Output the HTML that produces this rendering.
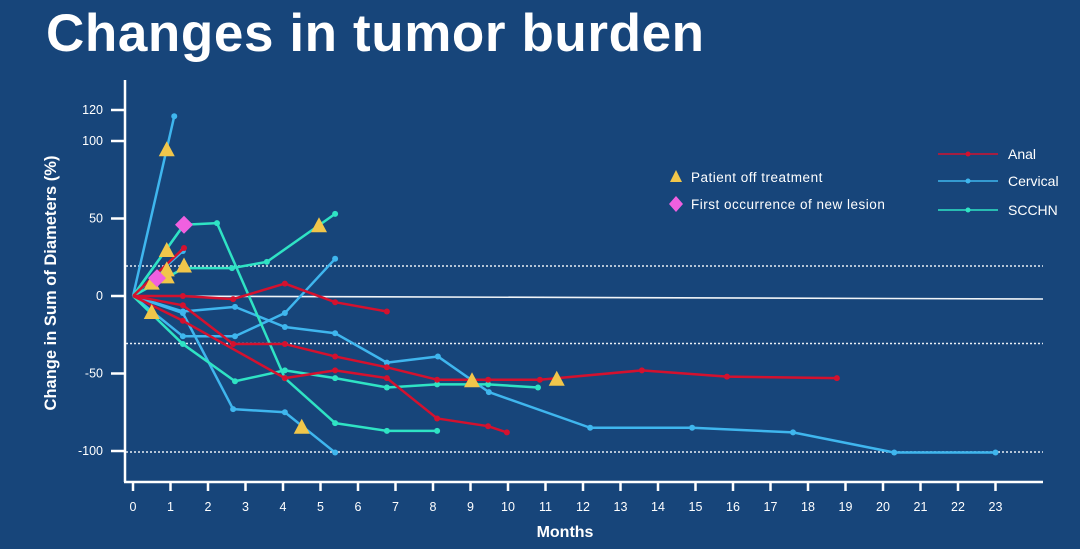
<!DOCTYPE html>
<html><head><meta charset="utf-8">
<style>
html,body{margin:0;padding:0;background:#17457a;}
#wrap{position:relative;width:1080px;height:549px;background:#17457a;overflow:hidden;font-family:"Liberation Sans",sans-serif;}
#title{position:absolute;left:46px;top:3px;font-size:53px;font-weight:bold;color:#fff;letter-spacing:0.6px;}
svg{position:absolute;left:0;top:0;}
</style></head><body>
<div id="wrap">
<div id="title">Changes in tumor burden</div>
<svg id="chart" width="1080" height="549"></svg>
</div>
<script>
const xTicks=[0,1,2,3,4,5,6,7,8,9,10,11,12,13,14,15,16,17,18,19,20,21,22,23];
const yTicks=[120,100,50,0,-50,-100];
const refLines=[20,-30,-100];
// Anal series
const anal1M=[0,1.33,2.67,4.05,5.39,6.77];
const anal1V=[0,0,-2,8,-4,-10];
const anal2M=[0,1.33,2.67,4.05,5.39,6.77,8.11,9.47,10.85,13.57,15.84,18.77];
const anal2V=[0,-6,-31,-31,-39,-46,-54,-54,-54,-48,-52,-53];
const anal3M=[0,1.33,4.05,5.39,6.77,8.11,9.47,9.97];
const anal3V=[0,-16,-53,-48,-53,-79,-84,-88];
const anal4M=[0,1.36];
const anal4V=[0,31];
// Cervical series
const cerv1M=[0,1.1];
const cerv1V=[0,116];
const cerv2M=[0,1.33];
const cerv2V=[0,29];
const cerv3M=[0,1.33,2.67,4.05,5.39];
const cerv3V=[0,-11,-73,-75,-101];
const cerv4M=[0,1.33,2.72,4.05,5.39];
const cerv4V=[0,-26,-26,-11,24];
const cerv5M=[0,1.33,2.72,4.05,5.39,6.77,8.13,9.49,12.19,14.91,17.6,20.3,23.0];
const cerv5V=[0,-10,-7,-20,-24,-43,-39,-62,-85,-85,-88,-101,-101];
const cerv6M=[0,1.36];
const cerv6V=[0,46];
// SCCHN series
const sc1M=[0,1.36,2.24,4.05,5.39,6.77,8.11];
const sc1V=[0,46,47,-53,-82,-87,-87];
const sc2M=[0,1.36,2.64,3.57,5.39];
const sc2V=[0,18,18,22,53];
const sc3M=[0,1.33,2.72,4.05,5.39,6.77,8.11,9.47,10.8];
const sc3V=[0,-31,-55,-48,-53,-59,-57,-57,-59];
// markers
const triM=[0.9,0.9,0.9,0.9,1.36,0.5,0.5,4.5,4.96,9.04,11.3];
const triV=[94,29,16.5,12,19,8,-11,-85,45,-55,-54];
const diaM=[0.64,1.36];
const diaV=[11.5,46];

const NS="http://www.w3.org/2000/svg";
const svg=document.getElementById('chart');
const X=m=>133+37.5*m;
const Y=v=>296-1.55*v;
function mk(t,a,p){const e=document.createElementNS(NS,t);for(const k in a)e.setAttribute(k,a[k]);(p||svg).appendChild(e);return e;}

refLines.forEach(v=>{
  const l=mk('line',{x1:126,x2:1043,y1:Y(v)+1,y2:Y(v)+1,stroke:'#e8eef5','stroke-width':1.5,'stroke-dasharray':'2,2'});
  
  
});
const zl=mk('line',{x1:X(0),x2:1043,y1:Y(0),y2:Y(0)+3,stroke:'#f0f4f8','stroke-width':1.6});



const ya=mk('line',{x1:125,x2:125,y1:80,y2:482,stroke:'#fff','stroke-width':2.5});


const xa=mk('line',{x1:124,x2:1043,y1:482,y2:482,stroke:'#fff','stroke-width':2.5});


yTicks.forEach(v=>{
  mk('line',{x1:111,x2:125,y1:Y(v),y2:Y(v),stroke:'#fff','stroke-width':2.5});
  const t=mk('text',{x:103,y:Y(v)+4,'text-anchor':'end',fill:'#fff','font-size':12.5,'font-family':'Liberation Sans, sans-serif'});
  t.textContent=v;
  
  
});
xTicks.forEach(m=>{
  mk('line',{x1:X(m),x2:X(m),y1:482,y2:491,stroke:'#fff','stroke-width':2.5});
  const t=mk('text',{x:X(m),y:511,'text-anchor':'middle',fill:'#fff','font-size':12.5,'font-family':'Liberation Sans, sans-serif'});
  t.textContent=m;
  
  
});
const xt=mk('text',{x:565,y:537,'text-anchor':'middle',fill:'#fff','font-size':16,'font-weight':'bold','font-family':'Liberation Sans, sans-serif'});
xt.textContent='Months';


const yt=mk('text',{x:0,y:0,'text-anchor':'middle',fill:'#fff','font-size':16.5,'font-weight':'bold','font-family':'Liberation Sans, sans-serif',transform:'translate(56,283) rotate(-90)'});
yt.textContent='Change in Sum of Diameters (%)';



const RED='#d4112e',BLUE='#3fb6ee',TEAL='#2fe3c4';
function series(ms,vs,col,name){
  const g=mk('g',{});
  
  
  mk('polyline',{points:ms.map((m,i)=>X(m)+','+Y(vs[i])).join(' '),fill:'none',stroke:col,'stroke-width':2.5,'stroke-linejoin':'round'},g);
  ms.forEach((m,i)=>{ if(i>0) mk('circle',{cx:X(m),cy:Y(vs[i]),r:3,fill:col},g); });
}
series(cerv1M,cerv1V,BLUE,'cervical-patient-1');
series(cerv2M,cerv2V,BLUE,'cervical-patient-2');
series(cerv3M,cerv3V,BLUE,'cervical-patient-3');
series(cerv4M,cerv4V,BLUE,'cervical-patient-4');
series(cerv5M,cerv5V,BLUE,'cervical-patient-5');
series(cerv6M,cerv6V,BLUE,'cervical-patient-6');
series(sc1M,sc1V,TEAL,'scchn-patient-1');
series(sc2M,sc2V,TEAL,'scchn-patient-2');
series(sc3M,sc3V,TEAL,'scchn-patient-3');
series(anal1M,anal1V,RED,'anal-patient-1');
series(anal2M,anal2V,RED,'anal-patient-2');
series(anal3M,anal3V,RED,'anal-patient-3');
series(anal4M,anal4V,RED,'anal-patient-4');

triM.forEach((m,i)=>{
  const x=X(m),y=Y(triV[i]);
  const p=mk('polygon',{points:`${x},${y-9} ${x-8},${y+6} ${x+8},${y+6}`,fill:'#f1c64a'});
  
  
});
diaM.forEach((m,i)=>{
  const x=X(m),y=Y(diaV[i]);
  const p=mk('polygon',{points:`${x},${y-9} ${x+9},${y} ${x},${y+9} ${x-9},${y}`,fill:'#f060e0'});
  
  
});

const lg=mk('g',{});


const lt=mk('polygon',{points:'676,170 670,182 682,182',fill:'#f1c64a'},lg);


const ld=mk('polygon',{points:'676,196 683,204 676,212 669,204',fill:'#f060e0'},lg);


[['Patient off treatment',182],['First occurrence of new lesion',209]].forEach(([s,y])=>{
  const t=mk('text',{x:691,y:y,fill:'#fff','font-size':13.5,'letter-spacing':'0.5','font-family':'Liberation Sans, sans-serif'},lg);
  t.textContent=s;
  
  
});
[['Anal',RED,154],['Cervical',BLUE,181],['SCCHN',TEAL,210]].forEach(([s,c,y])=>{
  mk('line',{x1:938,x2:998,y1:y,y2:y,stroke:c,'stroke-width':1.6},lg);
  mk('circle',{cx:968,cy:y,r:2.5,fill:c},lg);
  const t=mk('text',{x:1008,y:y+5,fill:'#fff','font-size':14,'font-family':'Liberation Sans, sans-serif'},lg);
  t.textContent=s;
  
  
});
</script>
</body></html>
